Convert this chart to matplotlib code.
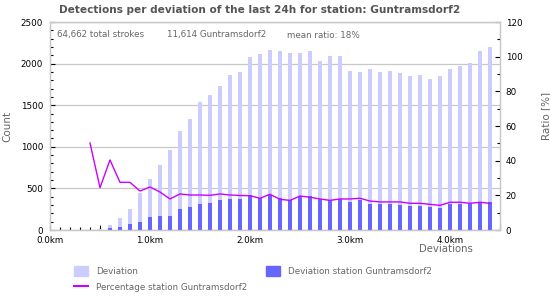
import numpy as np
import matplotlib
matplotlib.use("Agg")
import matplotlib.pyplot as plt
from matplotlib.patches import Patch
from matplotlib.lines import Line2D
from matplotlib.ticker import MultipleLocator, FuncFormatter

# deviation classes in km (0.1 km steps)
dist_km = [round(0.1 * i, 1) for i in range(45)]

total_counts = [5, 0, 0, 0, 2, 10, 60, 140, 252, 449,
                613, 781, 962, 1190, 1334, 1542, 1623, 1731, 1863, 1899,
                2079, 2115, 2163, 2151, 2127, 2127, 2151, 2031, 2091, 2091,
                1911, 1899, 1935, 1899, 1911, 1887, 1851, 1863, 1815, 1851,
                1935, 1971, 2007, 2151, 2199]

station_counts = [0, 0, 0, 0, 1, 3, 24, 38, 69, 101,
                  152, 171, 172, 247, 276, 312, 324, 360, 377, 377,
                  417, 385, 425, 381, 357, 409, 405, 369, 357, 369,
                  333, 360, 312, 309, 309, 305, 288, 288, 276, 260,
                  312, 316, 312, 333, 333]

ratio_pct = [np.nan, np.nan, np.nan, np.nan, 50.2, 24.4, 40.4, 27.5, 27.5, 22.5,
             24.8, 21.9, 17.9, 20.8, 20.2, 20.2, 20.0, 20.8, 20.2, 19.9,
             19.8, 18.3, 20.6, 17.7, 17.1, 19.6, 18.9, 17.9, 17.1, 17.9,
             17.9, 18.3, 16.7, 16.2, 16.2, 16.2, 15.4, 15.4, 14.8, 14.2,
             16.0, 16.0, 15.4, 16.0, 15.4]

STATION = "Guntramsdorf2"
summary = ["64,662 total strokes", "11,614 Guntramsdorf2", "mean ratio: 18%"]

LIGHT = "#ccccff"
DARK = "#6666ff"
LINE = "#cc00ff"
GRID = "#c8c8c8"
TXT = "#666666"

plt.rcParams["font.family"] = ["DejaVu Sans"]

fig = plt.figure(figsize=(5.5, 3.0), dpi=100)
ax = fig.add_axes([50 / 550, 1 - 230 / 300, 450 / 550, 208 / 300])
ax2 = ax.twinx()

ax.bar(dist_km, total_counts, width=0.035, color=LIGHT, zorder=2)
ax.bar(dist_km, station_counts, width=0.035, color=DARK, zorder=3)
ax2.plot(dist_km, ratio_pct, color=LINE, lw=1.0, zorder=4)

ax.set_xlim(0, 4.5)
ax.set_ylim(0, 2500)
ax2.set_ylim(0, 120)

ax.yaxis.set_major_locator(MultipleLocator(500))
ax.yaxis.set_minor_locator(MultipleLocator(100))
ax2.yaxis.set_major_locator(MultipleLocator(20))
ax2.yaxis.set_minor_locator(MultipleLocator(10))
ax.xaxis.set_major_locator(MultipleLocator(0.5))
ax.xaxis.set_minor_locator(MultipleLocator(0.1))
ax.xaxis.set_major_formatter(FuncFormatter(
    lambda v, p: f"{v:.1f}km" if abs(v - round(v)) < 1e-6 and v < 4.5 else ""))

ax.grid(axis="y", color=GRID, lw=0.9, zorder=0)
ax.set_axisbelow(True)

for a in (ax, ax2):
    for s in a.spines.values():
        s.set_color(GRID)
        s.set_linewidth(0.9)
    a.tick_params(which="both", direction="in", color="black", width=0.8,
                  labelsize=6.3, labelcolor="black")
    a.tick_params(which="major", length=3.5)
    a.tick_params(which="minor", length=2.2)
ax.tick_params(axis="x", pad=4)
ax.tick_params(axis="y", pad=5)
ax2.tick_params(axis="y", pad=4)

ax.set_ylabel("Count", color=TXT, fontsize=7.5)
ax.yaxis.set_label_coords((12 - 50) / 450, 0.5)
ax2.set_ylabel("Ratio [%]", color=TXT, fontsize=7.5)
ax2.yaxis.set_label_coords((541 - 50) / 450, 0.55)
fig.text(473 / 550, 1 - 249 / 300, "Deviations", color=TXT, fontsize=7.3,
         ha="right", va="center")

fig.suptitle(f"Detections per deviation of the last 24h for station: {STATION}",
             x=260 / 550, y=1 - 10 / 300, va="center", fontsize=7.6,
             fontweight="bold", color="#555555")

for xpos, s in zip([57, 167, 287], summary):
    fig.text(xpos / 550, 1 - 35 / 300, s, color=TXT, fontsize=6.3,
             ha="left", va="center")

handles = [
    Patch(color=LIGHT, label="Deviation"),
    Line2D([], [], color=LINE, lw=1.5, label=f"Percentage station {STATION}"),
    Patch(color=DARK, label=f"Deviation station {STATION}"),
]
leg = fig.legend(handles=handles, ncol=2, loc="upper left",
                 bbox_to_anchor=(66 / 550, 1 - 258 / 300), frameon=False,
                 fontsize=6.3, labelcolor=TXT, handlelength=1.6,
                 handleheight=1.4, handletextpad=0.9, columnspacing=2.2,
                 labelspacing=0.7)

fig.savefig("out.png", dpi=100)
